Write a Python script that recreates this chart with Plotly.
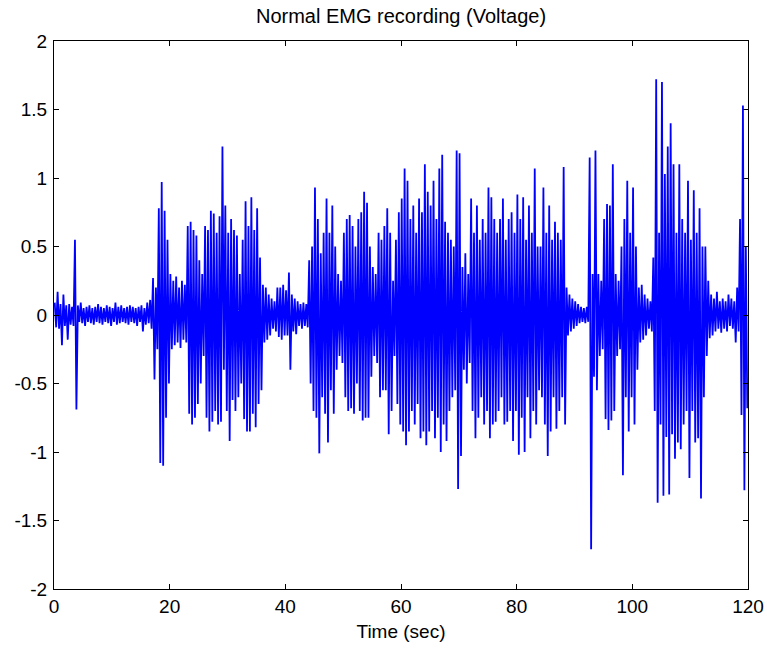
import plotly.graph_objects as go

# Time resolution of the envelope readings (seconds per bin)
bin_seconds = 0.5

# Peak positive voltage read for each 0.5 s bin (0 .. 120 s)
peak_high = [
    0.09, 0.17, 0.08, 0.15, 0.07, 0.08, 0.06,
    0.55,
    0.07, 0.09, 0.05, 0.06, 0.07, 0.05, 0.06, 0.08, 0.06, 0.05, 0.07, 0.06, 0.05,
    0.09, 0.06, 0.07, 0.05, 0.06, 0.07, 0.06, 0.05, 0.06, 0.07, 0.05, 0.09, 0.11,
    0.27, 0.20,
    0.78, 0.97, 0.76,
    0.55, 0.30, 0.25, 0.28, 0.20, 0.25, 0.22,
    0.65, 0.68, 0.62, 0.58, 0.40, 0.30,
    0.65, 0.62, 0.76, 0.74, 0.60, 0.72, 1.23,
    0.80, 0.60, 0.70, 0.62, 0.58, 0.30,
    0.55, 0.83, 0.65, 0.86, 0.62, 0.78, 0.42,
    0.22, 0.20, 0.15, 0.12, 0.10, 0.20, 0.20, 0.22, 0.18, 0.31, 0.15, 0.12, 0.10, 0.08, 0.09, 0.08,
    0.40, 0.50, 0.93, 0.70, 0.45, 0.60, 0.85, 0.60, 0.80, 0.50,
    0.30, 0.25,
    0.60, 0.70, 0.73, 0.65, 0.50,
    0.70, 0.75, 0.90, 0.82, 0.50,
    0.35, 0.30,
    0.60, 0.55, 0.65, 0.78, 0.60, 0.25,
    0.55, 0.75, 0.85, 1.07, 0.98, 0.70, 0.80, 0.60, 0.85, 0.75, 1.10, 0.90,
    0.80, 0.98, 0.70, 1.07, 1.17,
    0.68, 0.60, 0.55, 0.50, 1.20, 1.18,
    0.35, 0.45, 0.30,
    0.85, 0.60, 0.80, 0.55, 0.70, 0.60, 0.93, 0.86, 0.70, 0.60, 0.70, 0.85, 0.55, 0.70,
    0.75, 0.60, 0.88, 0.70, 0.86, 0.55, 0.80, 0.60, 1.07, 0.50,
    0.50, 0.93, 0.60, 0.80, 0.55, 0.68, 0.60, 0.55, 1.08,
    0.20, 0.15, 0.12, 0.10, 0.08, 0.06, 0.05, 0.06,
    1.15,
    0.30, 1.20, 0.30, 0.25,
    0.70, 0.81, 0.80, 1.10,
    0.30, 0.25,
    0.50, 0.70, 0.98, 0.60, 0.93, 0.50,
    0.20, 0.22, 0.15, 0.12, 0.10, 0.42,
    1.72, 0.60, 1.70, 1.03, 1.23, 1.40,
    1.10, 0.60, 1.10,
    0.70, 0.60, 0.98, 0.55, 0.91, 0.60, 0.78, 0.50, 0.50,
    0.25, 0.15, 0.12, 0.17, 0.10, 0.12, 0.10, 0.15, 0.12, 0.10, 0.20,
    0.70, 1.53, 0.50,
]

# Peak negative voltage read for each 0.5 s bin (0 .. 120 s)
peak_low = [
    -0.09, -0.10, -0.22, -0.08, -0.18, -0.07, -0.08,
    -0.69,
    -0.05, -0.06, -0.08, -0.05, -0.06, -0.07, -0.05, -0.06, -0.07, -0.05, -0.06, -0.08, -0.05,
    -0.07, -0.06, -0.05, -0.06, -0.07, -0.05, -0.06, -0.08, -0.05, -0.12, -0.07, -0.06, -0.10,
    -0.47, -0.25,
    -1.08, -1.10, -0.75,
    -0.50, -0.25, -0.22, -0.20, -0.24, -0.18, -0.20,
    -0.72, -0.80, -0.75, -0.65, -0.50, -0.30,
    -0.75, -0.85, -0.78, -0.70, -0.80, -0.78, -0.40,
    -0.70, -0.92, -0.62, -0.70, -0.60, -0.50,
    -0.76, -0.85, -0.85, -0.72, -0.82, -0.65, -0.55,
    -0.20, -0.18, -0.15, -0.10, -0.12, -0.16, -0.18, -0.15, -0.15, -0.40, -0.12, -0.14, -0.08, -0.10, -0.08, -0.09,
    -0.50, -0.70, -0.75, -1.01, -0.60, -0.72, -0.93, -0.55, -0.72, -0.40,
    -0.30, -0.35,
    -0.60, -0.70, -0.68, -0.72, -0.50,
    -0.70, -0.77, -0.75, -0.75, -0.45,
    -0.30, -0.35,
    -0.60, -0.55, -0.55, -0.87, -0.70, -0.30,
    -0.65, -0.80, -0.85, -0.95, -0.85, -0.70, -0.80, -0.65, -0.90, -0.85, -0.95, -0.85,
    -0.70, -0.90, -0.75, -1.00, -0.80,
    -0.92, -0.70, -0.60, -0.55, -1.27, -1.03,
    -0.40, -0.50, -0.35,
    -0.70, -0.90, -0.75, -0.60, -0.80, -0.70, -0.90, -0.80, -0.78, -0.70, -0.60, -0.80, -0.78, -0.70,
    -0.92, -0.70, -1.02, -0.75, -1.00, -0.60, -0.90, -0.70, -0.80, -0.55,
    -0.60, -0.80, -1.03, -0.85, -0.60, -0.83, -0.70, -0.60, -0.80,
    -0.15, -0.12, -0.10, -0.08, -0.06, -0.05, -0.06, -0.05,
    -1.71,
    -0.45, -0.55, -0.30, -0.25,
    -0.76, -0.84, -0.77, -0.70,
    -0.30, -0.25,
    -1.17, -0.60, -0.85, -0.60, -0.80, -0.40,
    -0.20, -0.18, -0.15, -0.10, -0.12, -0.70,
    -1.37, -0.80, -1.32, -0.89, -1.31, -0.87,
    -1.05, -0.93, -0.98,
    -0.80, -0.70, -1.19, -0.70, -0.93, -0.90, -1.34, -0.60, -0.30,
    -0.17, -0.15, -0.12, -0.10, -0.13, -0.10, -0.12, -0.08, -0.10, -0.20, -0.12,
    -0.73, -1.28, -0.68,
]

x_ticks = [0, 20, 40, 60, 80, 100, 120]
y_ticks = [-2, -1.5, -1, -0.5, 0, 0.5, 1, 1.5, 2]
y_tick_text = ["-2", "-1.5", "-1", "-0.5", "0", "0.5", "1", "1.5", "2"]

# Build the alternating trace (high then low within each bin)
time = []
voltage = []
for k, (hi, lo) in enumerate(zip(peak_high, peak_low)):
    t0 = k * bin_seconds
    time += [t0 + bin_seconds * 0.25, t0 + bin_seconds * 0.75]
    voltage += [hi, lo]

font_family = "Liberation Sans, Arial, sans-serif"

fig = go.Figure()
fig.add_trace(go.Scatter(
    x=time, y=voltage, mode="lines",
    line=dict(color="#0000FF", width=1.8),
    hoverinfo="skip", showlegend=False,
))

axis_common = dict(
    showgrid=False, zeroline=False, automargin=False,
    showline=True, linecolor="black", linewidth=1, mirror="ticks",
    ticks="inside", ticklen=5, tickcolor="black",
    tickfont=dict(family=font_family, size=19, color="black"),
)

fig.update_layout(
    width=767, height=648,
    margin=dict(l=54, r=19, t=41, b=59),
    paper_bgcolor="white", plot_bgcolor="white",
    title=dict(
        text="Normal EMG recording (Voltage)",
        font=dict(family=font_family, size=20, color="black"),
        x=(54 + 748) / 2 / 767, xanchor="center", xref="container",
        y=1 - 9 / 648, yanchor="top", yref="container",
    ),
    xaxis=dict(
        range=[0, 120], tickvals=x_ticks, ticktext=[str(v) for v in x_ticks],
        title=dict(text="Time (sec)", font=dict(family=font_family, size=19, color="black"), standoff=8),
        **axis_common,
    ),
    yaxis=dict(
        range=[-2, 2], tickvals=y_ticks, ticktext=y_tick_text,
        ticklabelstandoff=2,
        **axis_common,
    ),
)

fig.write_html(
    "out.html",
    config={"displayModeBar": False},
    post_script="document.body.style.margin='0px';document.body.style.padding='0px';",
)
